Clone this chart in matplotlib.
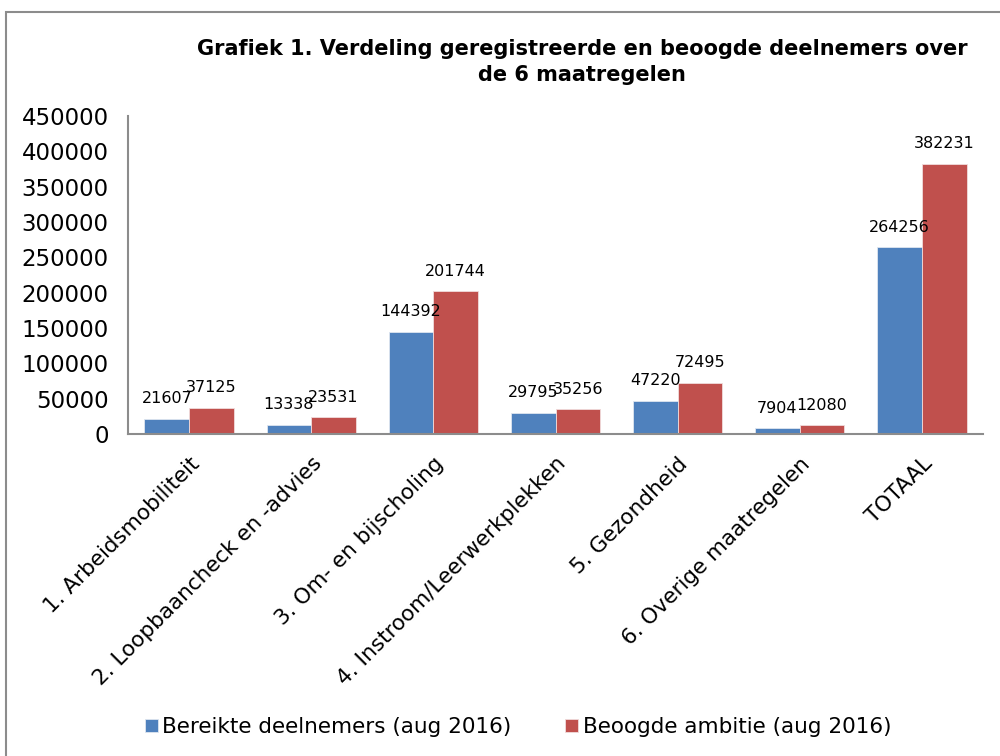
import numpy as np
import matplotlib
matplotlib.use("Agg")
import matplotlib.pyplot as plt
from matplotlib.patches import Rectangle

categories = ["1. Arbeidsmobiliteit", "2. Loopbaancheck en -advies", "3. Om- en bijscholing",
              "4. Instroom/Leerwerkplekken", "5. Gezondheid", "6. Overige maatregelen", "TOTAAL"]
bereikt = [21607, 13338, 144392, 29795, 47220, 7904, 264256]
ambitie = [37125, 23531, 201744, 35256, 72495, 12080, 382231]
series_names = ["Bereikte deelnemers (aug 2016)", "Beoogde ambitie (aug 2016)"]
yticks = np.arange(0, 450001, 50000)

blue = "#4F81BD"
red = "#C0504D"

plt.rcParams['font.family'] = ['DejaVu Sans']

fig = plt.figure(figsize=(10, 7.56), dpi=100)
ax = fig.add_axes([0.128, 1 - 434/756, 0.855, (434 - 116)/756])

x = np.arange(len(categories))
w = 0.365
b1 = ax.bar(x - w/2, bereikt, w, color=blue, edgecolor="#dfe6f0", linewidth=0.6, label=series_names[0])
b2 = ax.bar(x + w/2, ambitie, w, color=red, edgecolor="#f0dcdc", linewidth=0.6, label=series_names[1])

for bars in (b1, b2):
    for r in bars:
        ax.annotate(str(int(r.get_height())), (r.get_x() + r.get_width()/2, r.get_height()),
                    xytext=(0, 9), textcoords="offset points", ha="center", va="bottom",
                    fontsize=11.5, color="black")

ax.set_xlim(-0.5, len(categories) - 0.5)
ax.set_ylim(0, 450000)
ax.set_yticks(yticks)
ax.set_yticklabels([str(v) for v in yticks], fontsize=16.5)
ax.set_xticks(x)
ax.set_xticklabels(categories, rotation=45, ha="right", rotation_mode="anchor", fontsize=15.5)
ax.tick_params(length=0)
ax.tick_params(axis="y", pad=14)
ax.tick_params(axis="x", pad=14)
for s in ["top", "right"]:
    ax.spines[s].set_visible(False)
for s in ["left", "bottom"]:
    ax.spines[s].set_color("#8c8c8c")
    ax.spines[s].set_linewidth(1.5)

fig.text(0.582, 1 - 62/756, "Grafiek 1. Verdeling geregistreerde en beoogde deelnemers over\nde 6 maatregelen",
         ha="center", va="center", fontsize=15, fontweight="bold", linespacing=1.4)

fig.legend(loc="center", bbox_to_anchor=(0.518, 1 - 727/756), ncol=2, frameon=False,
           fontsize=15.5, handlelength=0.6, handleheight=0.6, handletextpad=0.2, columnspacing=2.5)

fig.patches.append(Rectangle((6/1000, -0.1), 1.2, 1 - 12/756 + 0.1, transform=fig.transFigure,
                             fill=False, edgecolor="#8c8c8c", linewidth=1.5))

fig.savefig("out.png", dpi=100)
